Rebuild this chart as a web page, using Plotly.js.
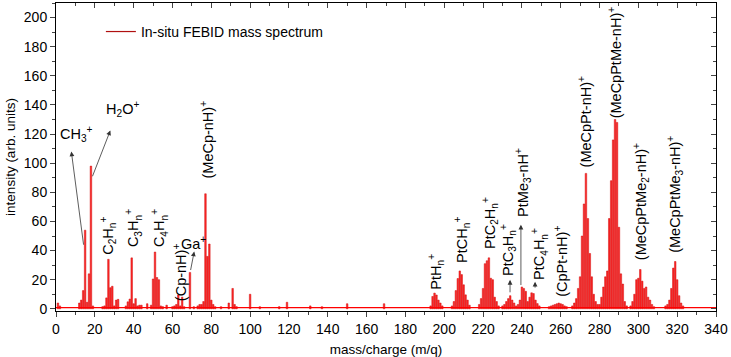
<!DOCTYPE html>
<html>
<head>
<meta charset="utf-8">
<script src="https://cdn.plot.ly/plotly-3.0.1.min.js"></script>
<style>
  html, body { margin: 0; padding: 0; background: #fff; }
  #plot { width: 731px; height: 357px; }
</style>
</head>
<body>
<div id="plot"></div>
<script>
// peaks: mass (m/q) and intensity (arb. units)
var lowMass = [1, 2, 12, 13, 14, 15, 16, 17, 18, 19, 24, 25, 26, 27, 28, 29, 30, 31, 32, 36, 37, 38, 39, 40, 41, 42, 43, 44, 47, 49,
  50, 51, 52, 53, 54, 55, 57, 60, 61, 62, 63, 64, 65, 66, 69, 71, 73, 74, 75, 76, 77, 78, 79, 80, 81, 82, 85, 89, 91, 92, 93,
  100, 105, 115, 119, 131, 137, 150, 169];
var lowInt = [4, 2, 4, 6, 12.5, 54, 4.5, 24, 98, 2, 1.5, 2, 7.5, 34, 14.5, 15.5, 2, 6, 6.5, 2, 4.8, 6.7, 35, 3.5, 7, 2, 2.5, 2.5, 3.5, 2.5,
  20.5, 39, 21.5, 20, 2, 1.5, 2.5, 1.5, 2, 3, 9.5, 2, 8, 1.5, 25, 1.5, 2, 3, 3, 5, 79, 36, 44.5, 6, 3, 1.5, 1.5, 4, 14, 3, 1.5,
  10, 1.5, 1.5, 4.5, 2, 1.5, 3.5, 3.5];

var ptMass = [193, 194, 195, 196, 197, 198, 199,
  204, 205, 206, 207, 208, 209, 210, 211, 212, 213,
  218, 219, 220, 221, 222, 223, 224, 225, 226, 227, 228,
  230, 231, 232, 233, 234, 235, 236, 237,
  238, 239, 240, 241, 242, 243,
  244, 245, 246, 247, 248, 249,
  254, 255, 256, 257, 258, 259, 260, 261, 262, 263];
var ptInt = [2, 8.5, 10.8, 9.5, 6, 4, 2,
  2, 5, 12.5, 20.8, 26, 23.5, 16.5, 9.6, 6, 2.5,
  3, 7, 14, 31, 33, 35, 21, 20, 8, 5, 2,
  2, 3, 5, 7, 9, 6, 4, 2,
  3, 6, 15, 14, 12, 5,
  8, 11, 10.5, 6, 3.6, 2,
  1.5, 2, 2.5, 3, 3.5, 4, 3.5, 3, 2, 1.5];

var mecpMass = [266, 267, 268, 269, 270, 271, 272, 273, 274, 275, 276, 277, 278, 279, 280,
  281, 282, 283, 284, 285, 286, 287, 288, 289, 290, 291, 292, 293, 294,
  296, 297, 298, 299, 300, 301, 302, 303, 304, 305, 306, 307, 308,
  314, 315, 316, 317, 318, 319, 320, 321, 322, 323];
var mecpInt = [2, 4, 7, 14, 22, 50, 72, 93, 62, 38, 22, 10, 5, 3, 3,
  8, 15, 22, 26, 62, 88, 116, 130, 128, 56, 24, 17, 5, 2,
  2, 5, 10, 20, 21, 27, 19, 14, 15, 8, 6, 3, 1.5,
  2, 3, 6, 14, 28, 32.5, 20, 9, 4, 2];

var baselineLevel = 0.8;

var labelFont = { family: "Liberation Sans, Arial, sans-serif", size: 14.5, color: "#000" };

// [text, x, y, angle]
var labels = [
  ["CH<sub>3</sub><sup>+</sup>", 10.5, 120, 0],
  ["H<sub>2</sub>O<sup>+</sup>", 34.5, 137, 0],
  ["C<sub>2</sub>H<sub>n</sub><sup>+</sup>", 26.7, 50, -90],
  ["C<sub>3</sub>H<sub>n</sub><sup>+</sup>", 39.8, 55.6, -90],
  ["C<sub>4</sub>H<sub>n</sub><sup>+</sup>", 53.2, 55.6, -90],
  ["(Cp-nH)<sup>+</sup>", 63.6, 25.5, -90],
  ["Ga<sup>+</sup>", 70.6, 45.5, 0],
  ["(MeCp-nH)<sup>+</sup>", 77.6, 116, -90],
  ["PtH<sub>n</sub><sup>+</sup>", 195.3, 25.6, -90],
  ["PtCH<sub>n</sub><sup>+</sup>", 209.2, 47.4, -90],
  ["PtC<sub>2</sub>H<sub>n</sub><sup>+</sup>", 223.6, 59, -90],
  ["PtC<sub>3</sub>H<sub>n</sub><sup>+</sup>", 232.9, 40.5, -90],
  ["PtMe<sub>3</sub>-nH<sup>+</sup>", 240.6, 86.5, -90],
  ["PtC<sub>4</sub>H<sub>n</sub><sup>+</sup>", 248.9, 37.8, -90],
  ["(CpPt-nH)<sup>+</sup>", 260.2, 32.3, -90],
  ["(MeCpPt-nH)<sup>+</sup>", 272.3, 128.4, -90],
  ["(MeCpPtMe-nH)<sup>+</sup>", 288, 169.3, -90],
  ["(MeCpPtMe<sub>2</sub>-nH)<sup>+</sup>", 301.7, 73.7, -90],
  ["(MeCpPtMe<sub>3</sub>-nH)<sup>+</sup>", 318.9, 78.3, -90]
];

// [headX, headY, tailX, tailY]
var arrows = [
  [7.9, 108, 14.3, 43],
  [28, 122.5, 18.5, 90],
  [71.2, 39.4, 69.2, 25.6],
  [233.9, 19.9, 233.9, 10.3],
  [239.5, 57.7, 239.5, 15.3],
  [246.8, 18.6, 246.8, 13.5]
];

var masses = lowMass.concat(ptMass, mecpMass);
var intensities = lowInt.concat(ptInt, mecpInt);

var annotations = labels.map(function (l) {
  return {
    text: l[0], x: l[1], y: l[2], xref: "x", yref: "y",
    textangle: l[3], showarrow: false, font: labelFont,
    xanchor: "center", yanchor: "middle"
  };
});
arrows.forEach(function (a) {
  annotations.push({
    text: "", x: a[0], y: a[1], ax: a[2], ay: a[3],
    xref: "x", yref: "y", axref: "x", ayref: "y",
    showarrow: true, arrowhead: 2, arrowsize: 1.2, arrowwidth: 0.8, arrowcolor: "#333"
  });
});

var spectrum = {
  type: "bar",
  x: masses,
  y: intensities,
  width: 0.8,
  marker: { color: "rgba(255,0,0,0.85)", line: { color: "#d01010", width: 0.5 } },
  showlegend: false,
  hoverinfo: "x+y"
};
var baseline = {
  type: "scatter",
  mode: "lines",
  x: [0, 340],
  y: [baselineLevel, baselineLevel],
  line: { color: "#ff0000", width: 1.2 },
  showlegend: false,
  hoverinfo: "skip"
};
var legendEntry = {
  type: "scatter",
  mode: "lines",
  x: [null],
  y: [null],
  name: "In-situ FEBID mass spectrum",
  line: { color: "#b01010", width: 1.2 }
};
var mirror = {
  type: "scatter", mode: "lines", x: [null], y: [null],
  xaxis: "x2", yaxis: "y2", showlegend: false, hoverinfo: "skip"
};

var tickFont = { family: "Liberation Sans, Arial, sans-serif", size: 14, color: "#000" };
var titleFont = { family: "Liberation Sans, Arial, sans-serif", size: 13.5, color: "#000" };
var xRange = [0, 340];
var yRange = [-1.5, 210];

var layout = {
  width: 731,
  height: 357,
  margin: { l: 56, r: 15, t: 3, b: 46 },
  paper_bgcolor: "#fff",
  plot_bgcolor: "#fff",
  font: tickFont,
  bargap: 0,
  showlegend: true,
  legend: {
    x: 0.068, y: 0.958, xanchor: "left", yanchor: "top",
    bgcolor: "rgba(0,0,0,0)", font: { family: "Liberation Sans, Arial, sans-serif", size: 14, color: "#000" },
    itemwidth: 30
  },
  xaxis: {
    range: xRange, dtick: 20, tick0: 0, ticks: "outside", ticklen: 5, tickwidth: 1,
    minor: { dtick: 10, ticks: "outside", ticklen: 3 },
    showline: true, linecolor: "#000", linewidth: 1, showgrid: false, zeroline: false,
    tickfont: tickFont,
    title: { text: "mass/charge (m/q)", font: titleFont, standoff: 8 }
  },
  yaxis: {
    range: yRange, dtick: 20, tick0: 0, ticks: "outside", ticklen: 5, tickwidth: 1,
    minor: { dtick: 10, ticks: "outside", ticklen: 3 },
    showline: true, linecolor: "#000", linewidth: 1, showgrid: false, zeroline: false,
    tickfont: tickFont,
    title: { text: "intensity (arb. units)", font: titleFont, standoff: 5 }
  },
  xaxis2: {
    overlaying: "x", side: "top", range: xRange, dtick: 20, tick0: 0,
    ticks: "inside", ticklen: 5, minor: { dtick: 10, ticks: "inside", ticklen: 3 },
    showticklabels: false, showline: true, linecolor: "#000", showgrid: false, zeroline: false
  },
  yaxis2: {
    overlaying: "y", side: "right", range: yRange, dtick: 20, tick0: 0,
    ticks: "inside", ticklen: 5, minor: { dtick: 10, ticks: "inside", ticklen: 3 },
    showticklabels: false, showline: true, linecolor: "#000", showgrid: false, zeroline: false
  },
  annotations: annotations
};

Plotly.newPlot("plot", [baseline, spectrum, legendEntry, mirror], layout, { displayModeBar: false, staticPlot: true });
</script>
</body>
</html>
